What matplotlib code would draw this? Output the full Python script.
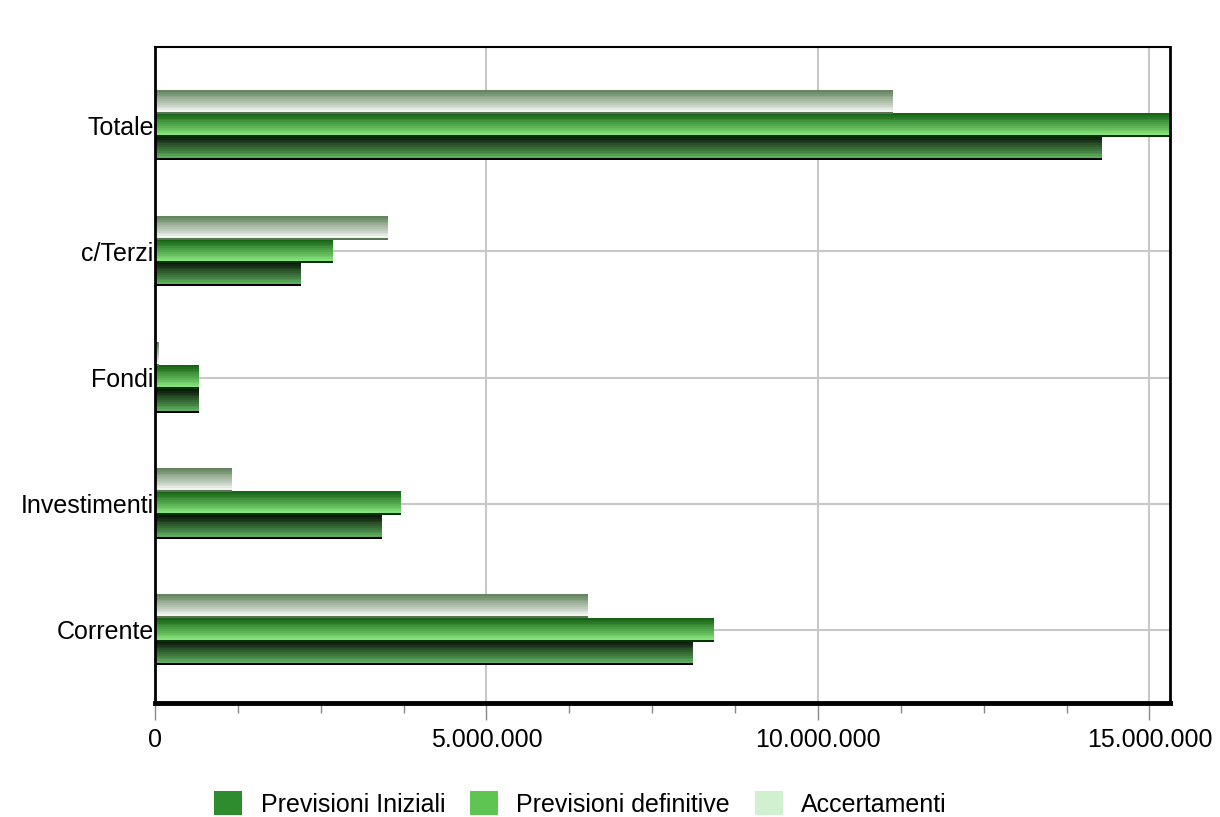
import numpy as np
import matplotlib
matplotlib.use("Agg")
import matplotlib.pyplot as plt
from matplotlib.colors import to_rgb
from matplotlib.patches import Patch
from matplotlib.ticker import FuncFormatter, MultipleLocator

plt.rcParams['font.family'] = ['Liberation Sans', 'DejaVu Sans']

categories = ["Corrente", "Investimenti", "Fondi", "c/Terzi", "Totale"]
prev_iniziali = [8110000, 3410000, 650000, 2200000, 14270000]
prev_definitive = [8430000, 3700000, 650000, 2680000, 15460000]
accertamenti = [6520000, 1160000, 50000, 3510000, 11120000]

series = [
    ("Previsioni Iniziali", prev_iniziali, "#2e8b2e", ("#0b1a0b", "#5cad5c", "#000000")),
    ("Previsioni definitive", prev_definitive, "#5ec552", ("#176417", "#86e27a", "#063306")),
    ("Accertamenti", accertamenti, "#d0f0d0", ("#65855f", "#f2f4f2", "#5a7556")),
]

XMAX = 15310000


def gradient(top, bottom, line, bands=12):
    # row 0 = bottom edge line, then light -> dark going up
    t = np.linspace(0, 1, bands)
    c_top, c_bot = np.array(to_rgb(top)), np.array(to_rgb(bottom))
    rows = [np.array(to_rgb(line))]
    for v in t:
        rows.append(c_bot * (1 - v) + c_top * v)
    return np.array(rows)[:, None, :]


fig = plt.figure(figsize=(12.2, 8.17), dpi=100)
ax = fig.add_axes([0.127, 0.1395, 0.832, 0.803])

y = np.arange(len(categories))
h = 0.185
offsets = [-h, 0, h]

for (name, vals, col, grad), off in zip(series, offsets):
    bars = ax.barh(y + off, vals, height=h, color="none", edgecolor="none")
    img = gradient(*grad)
    for b in bars:
        x0, y0 = b.get_x(), b.get_y()
        w, hh = b.get_width(), b.get_height()
        ax.imshow(img, extent=(x0, min(x0 + w, XMAX), y0, y0 + hh), origin="lower",
                  aspect="auto", interpolation="nearest", zorder=3)

ax.set_xlim(0, XMAX)
ax.set_ylim(-0.58, 4.62)
ax.set_yticks(y)
ax.set_yticklabels(categories, fontsize=18)
ax.tick_params(axis="y", length=0, pad=1)

ax.xaxis.set_major_locator(MultipleLocator(5000000))
ax.xaxis.set_minor_locator(MultipleLocator(1250000))
ax.xaxis.set_major_formatter(FuncFormatter(lambda v, p: f"{int(v):,}".replace(",", ".")))
ax.tick_params(axis="x", which="major", length=12, width=1, color="#888888", labelsize=18, pad=6)
ax.tick_params(axis="x", which="minor", length=7, width=1, color="#888888")

ax.grid(True, color="#c8c8c8", linewidth=1.5, zorder=0)
ax.set_axisbelow(True)

ax.spines["bottom"].set_linewidth(3.5)
ax.spines["left"].set_linewidth(2)
ax.spines["top"].set_linewidth(1.5)
ax.spines["right"].set_linewidth(2)
for s in ax.spines.values():
    s.set_color("black")
    s.set_zorder(5)

handles = [Patch(facecolor=col, edgecolor="none", label=name) for name, _, col, _ in series]
fig.legend(handles=handles, loc="lower center", bbox_to_anchor=(0.476, -0.027), ncol=3,
           frameon=False, fontsize=18, handlelength=1.1, handleheight=1.1,
           handletextpad=0.75, columnspacing=1.0)

fig.savefig("out.png", dpi=100)
